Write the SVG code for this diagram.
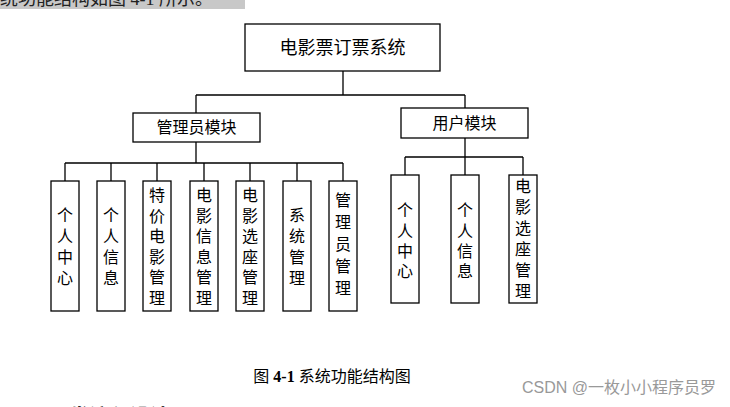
<svg xmlns="http://www.w3.org/2000/svg" width="730" height="407" viewBox="0 0 730 407">
<style>
.b{fill:#fff;stroke:#000;stroke-width:1.3}
.c{fill:none;stroke:#000;stroke-width:1.3}
.t{font-family:"Noto Sans CJK SC","Noto Sans CJK JP",sans-serif;font-size:16px;fill:#000;text-anchor:middle}
</style>
<rect x="0" y="0" width="730" height="407" fill="#fff"/>
<rect x="0" y="0" width="245" height="9" fill="#c8c8c8"/>
<text x="0" y="5" font-family="Liberation Serif,'Noto Sans CJK SC',serif" font-size="18" fill="#222">统功能结构如图 4-1 所示。</text>
<g id="connectors">
<path class="c" d="M343 71V95M196 95H465M196 95V113M465 95V108"/>
<path class="c" d="M196 142V163M65 163H343M65 163V181M111 163V181M157 163V181M204 163V181M250 163V181M297 163V181M343 163V181"/>
<path class="c" d="M465 138V157M405 157H523M405 157V175M465 157V175M523 157V175"/>
</g>
<g id="root"><rect class="b" x="245" y="24" width="195" height="47"/><text class="t" x="342.5" y="54" style="font-size:18px">电影票订票系统</text></g>
<g id="admin"><rect class="b" x="133" y="113" width="127" height="29"/><text class="t" x="196.5" y="133">管理员模块</text></g>
<g id="user"><rect class="b" x="401" y="108" width="127" height="30"/><text class="t" x="464.5" y="129">用户模块</text></g>
<g id="a1"><rect class="b" x="51" y="181" width="28" height="130"/><text class="t" x="65"><tspan x="65" y="221">个</tspan><tspan x="65" y="242">人</tspan><tspan x="65" y="263">中</tspan><tspan x="65" y="284">心</tspan></text></g>
<g id="a2"><rect class="b" x="97" y="181" width="28" height="130"/><text class="t"><tspan x="111" y="221">个</tspan><tspan x="111" y="242">人</tspan><tspan x="111" y="263">信</tspan><tspan x="111" y="284">息</tspan></text></g>
<g id="a3"><rect class="b" x="143" y="181" width="28" height="130"/><text class="t"><tspan x="157" y="201">特</tspan><tspan x="157" y="222">价</tspan><tspan x="157" y="242">电</tspan><tspan x="157" y="263">影</tspan><tspan x="157" y="283">管</tspan><tspan x="157" y="304">理</tspan></text></g>
<g id="a4"><rect class="b" x="190" y="181" width="28" height="130"/><text class="t"><tspan x="204" y="201">电</tspan><tspan x="204" y="222">影</tspan><tspan x="204" y="242">信</tspan><tspan x="204" y="263">息</tspan><tspan x="204" y="283">管</tspan><tspan x="204" y="304">理</tspan></text></g>
<g id="a5"><rect class="b" x="236" y="181" width="28" height="130"/><text class="t"><tspan x="250" y="201">电</tspan><tspan x="250" y="222">影</tspan><tspan x="250" y="242">选</tspan><tspan x="250" y="263">座</tspan><tspan x="250" y="283">管</tspan><tspan x="250" y="304">理</tspan></text></g>
<g id="a6"><rect class="b" x="283" y="181" width="28" height="130"/><text class="t"><tspan x="297" y="221">系</tspan><tspan x="297" y="242">统</tspan><tspan x="297" y="263">管</tspan><tspan x="297" y="284">理</tspan></text></g>
<g id="a7"><rect class="b" x="329" y="181" width="28" height="130"/><text class="t"><tspan x="343" y="206">管</tspan><tspan x="343" y="228">理</tspan><tspan x="343" y="250">员</tspan><tspan x="343" y="272">管</tspan><tspan x="343" y="294">理</tspan></text></g>
<g id="u1"><rect class="b" x="391" y="175" width="28" height="128"/><text class="t"><tspan x="405" y="216">个</tspan><tspan x="405" y="237">人</tspan><tspan x="405" y="257">中</tspan><tspan x="405" y="277">心</tspan></text></g>
<g id="u2"><rect class="b" x="451" y="175" width="28" height="128"/><text class="t"><tspan x="465" y="216">个</tspan><tspan x="465" y="237">人</tspan><tspan x="465" y="257">信</tspan><tspan x="465" y="277">息</tspan></text></g>
<g id="u3"><rect class="b" x="509" y="175" width="28" height="128"/><text class="t"><tspan x="523" y="192">电</tspan><tspan x="523" y="213">影</tspan><tspan x="523" y="234">选</tspan><tspan x="523" y="255">座</tspan><tspan x="523" y="276">管</tspan><tspan x="523" y="297">理</tspan></text></g>
<text x="332" y="382" font-family="Liberation Serif,'Noto Sans CJK SC',serif" font-size="16" text-anchor="middle">图 <tspan font-weight="bold">4-1</tspan> 系统功能结构图</text>
<text x="716" y="393" font-family="Liberation Sans,'Noto Sans CJK SC',sans-serif" font-size="16" fill="#999" text-anchor="end">CSDN @一枚小小程序员罗</text>
<text x="25" y="424" font-family="'Noto Sans CJK SC',sans-serif" font-size="20" font-weight="bold">三 开发流程设计</text>
</svg>
